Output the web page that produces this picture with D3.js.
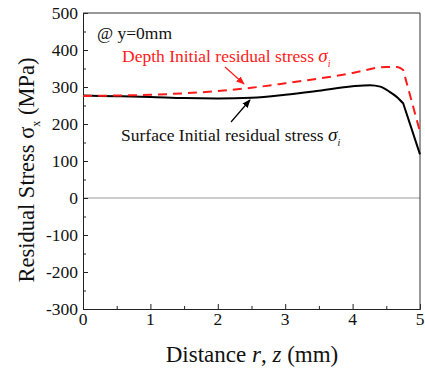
<!DOCTYPE html>
<html>
<head>
<meta charset="utf-8">
<style>
    body { margin: 0; background: white; }
    svg, svg text { font-family: "Liberation Serif", "Times New Roman", serif; }
</style>
</head>
<body>
<svg width="425" height="372"></svg>
<script src="https://d3js.org/d3.v7.min.js"></script>
<script>
    // values
    let surfaceX = [0, 0.5, 1, 1.5, 2, 2.5, 3, 3.5, 4, 4.26, 4.41, 4.55, 4.65, 4.75, 5]
    let surface = [277, 275, 273, 270, 269, 271, 279, 290, 302, 305, 301, 287, 274, 256, 118]

    let depthX = [0, 0.5, 1, 1.5, 2, 2.5, 3, 3.5, 4, 4.2, 4.35, 4.5, 4.66, 4.75, 5]
    let depth = [276, 277, 279, 283, 289, 298, 310, 323, 338, 346, 352, 354, 354, 346, 179]

    let xTicks = [0, 1, 2, 3, 4, 5]
    let yTicks = [-300, -200, -100, 0, 100, 200, 300, 400, 500]

    let svg = d3.select("svg")
    let pLeft = 83, pRight = 420, pTop = 13, pBottom = 309

    let x = d3.scaleLinear().domain([0, 5]).range([pLeft, pRight])
    let y = d3.scaleLinear().domain([-300, 500]).range([pBottom, pTop])

    // zero line
    svg.append("line")
        .attr("x1", pLeft).attr("x2", pRight)
        .attr("y1", y(0)).attr("y2", y(0))
        .attr("stroke", "#999").attr("stroke-width", 1)

    // axes with inward ticks, labels drawn separately
    svg.append("g")
        .attr("transform", `translate(0,${pBottom})`)
        .call(d3.axisBottom(x).tickValues(xTicks).tickSize(-5).tickFormat(""))
    svg.append("g")
        .attr("transform", `translate(0,${pBottom})`)
        .call(d3.axisBottom(x).tickValues(d3.range(0.5, 5, 1)).tickSize(-3).tickFormat(""))
        .call(g => g.select(".domain").remove())

    svg.append("g")
        .attr("transform", `translate(${pLeft},0)`)
        .call(d3.axisLeft(y).tickValues(yTicks).tickSize(-5).tickFormat(""))
    svg.append("g")
        .attr("transform", `translate(${pLeft},0)`)
        .call(d3.axisLeft(y).tickValues(d3.range(-250, 500, 100)).tickSize(-3).tickFormat(""))
        .call(g => g.select(".domain").remove())

    svg.selectAll(".domain").attr("stroke", "#222")
    svg.selectAll(".tick line").attr("stroke", "#222")

    svg.append("g").selectAll("text")
        .data(xTicks)
        .join("text")
        .attr("x", d => x(d))
        .attr("y", pBottom + 16)
        .attr("text-anchor", "middle")
        .attr("font-size", 17.5)
        .attr("fill", "#111")
        .text(d => String(d))

    svg.append("g").selectAll("text")
        .data(yTicks)
        .join("text")
        .attr("x", pLeft - 5)
        .attr("y", d => y(d) + 5.5)
        .attr("text-anchor", "end")
        .attr("font-size", 17.5)
        .attr("fill", "#111")
        .text(d => String(d))

    // top and right frame
    svg.append("path")
        .attr("d", `M${pLeft},${pTop}H${pRight}V${pBottom}`)
        .attr("fill", "none")
        .attr("stroke", "#333")

    // smooth curve up to the knee, then straight drop to the edge
    let line = d3.line().curve(d3.curveMonotoneX)
    function kneePath(xs, ys) {
        let pts = xs.map((d, i) => [x(d), y(ys[i])])
        let last = pts.pop()
        return line(pts) + `L${last[0]},${last[1]}`
    }

    svg.append("path")
        .attr("d", kneePath(surfaceX, surface))
        .attr("fill", "none")
        .attr("stroke", "black")
        .attr("stroke-width", 2)

    svg.append("path")
        .attr("d", kneePath(depthX, depth))
        .attr("fill", "none")
        .attr("stroke", "#ff1a1a")
        .attr("stroke-width", 2)
        .attr("stroke-dasharray", "9,6")

    // arrows
    let defs = svg.append("defs")
    ;[["red", "#ff1a1a"], ["blk", "black"]].forEach(([id, c]) => {
        defs.append("marker")
            .attr("id", "arr-" + id)
            .attr("viewBox", "0 0 10 10")
            .attr("refX", 9).attr("refY", 5)
            .attr("markerWidth", 7).attr("markerHeight", 7)
            .attr("orient", "auto")
            .append("path")
            .attr("d", "M0,1L10,5L0,9z")
            .attr("fill", c)
    })
    svg.append("line")
        .attr("x1", 225).attr("y1", 67).attr("x2", 244).attr("y2", 84)
        .attr("stroke", "#ff1a1a").attr("stroke-width", 1.2)
        .attr("marker-end", "url(#arr-red)")
    svg.append("line")
        .attr("x1", 231).attr("y1", 122).attr("x2", 250).attr("y2", 100)
        .attr("stroke", "black").attr("stroke-width", 1.2)
        .attr("marker-end", "url(#arr-blk)")

    // annotations
    svg.append("text")
        .attr("x", 97).attr("y", 39)
        .attr("font-size", 17.5)
        .attr("fill", "#111")
        .text("@ y=0mm")

    let t1 = svg.append("text")
        .attr("x", 122).attr("y", 62)
        .attr("font-size", 17.5)
        .attr("fill", "#ff1a1a")
    t1.append("tspan").text("Depth Initial residual stress ")
    t1.append("tspan").attr("font-style", "italic").attr("font-size", 19).text("σ")
    t1.append("tspan").attr("font-style", "italic").attr("font-size", 10).attr("dy", 5).text("i")

    let t2 = svg.append("text")
        .attr("x", 121).attr("y", 141)
        .attr("font-size", 17.5)
        .attr("fill", "#111")
    t2.append("tspan").text("Surface Initial residual stress ")
    t2.append("tspan").attr("font-style", "italic").attr("font-size", 19).text("σ")
    t2.append("tspan").attr("font-style", "italic").attr("font-size", 10).attr("dy", 5).text("i")

    // axis titles
    let xt = svg.append("text")
        .attr("x", 252).attr("y", 362)
        .attr("text-anchor", "middle")
        .attr("font-size", 23)
        .attr("fill", "#111")
    xt.append("tspan").text("Distance ")
    xt.append("tspan").attr("font-style", "italic").text("r")
    xt.append("tspan").text(", ")
    xt.append("tspan").attr("font-style", "italic").text("z")
    xt.append("tspan").text(" (mm)")

    let yt = svg.append("text")
        .attr("transform", "translate(34,170) rotate(-90)")
        .attr("text-anchor", "middle")
        .attr("font-size", 22.5)
        .attr("fill", "#111")
    yt.append("tspan").text("Residual Stress σ")
    yt.append("tspan").attr("font-size", 12).attr("dy", 6).text("x")
    yt.append("tspan").attr("dy", -6).text(" (MPa)")
</script>
</body>
</html>
